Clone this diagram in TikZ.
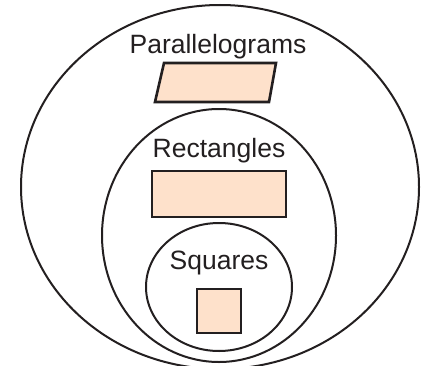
\documentclass[tikz,border=0pt]{standalone}
\usepackage{fontspec}
\setmainfont{Liberation Sans}
\usetikzlibrary{positioning}

\definecolor{inkline}{HTML}{231F20}
\definecolor{peach}{HTML}{FEE1CB}

\begin{document}
\begin{tikzpicture}[x=1pt, y=1pt,
  setline/.style={draw=inkline, line width=2pt},
  shapebox/.style={draw=inkline, line width=2.6pt, fill=peach, line join=miter},
  setlabel/.style={font=\fontsize{26.5}{30}\selectfont, text=inkline, anchor=base, inner sep=0pt}]
\useasboundingbox (0,0) rectangle (425,365);
\clip (0,0) rectangle (425,365);

% the three sets
\draw[setline] (220,178) ellipse [x radius=199, y radius=182];
\draw[setline] (219,129.5) ellipse [x radius=117, y radius=126.5];
\draw[setline] (219,78) ellipse [x radius=73, y radius=64];

% labels
\node[setlabel] (para) at (218,312) {Parallelograms};
\node[setlabel] (rect) at (219,208) {Rectangles};
\node[setlabel] (squa) at (219,96) {Squares};

% one shape of each kind
\draw[shapebox] (164,302) -- (276,302) -- (269,263) -- (155,263) -- cycle;
\draw[shapebox] (152,194) rectangle (286,148);
\draw[shapebox] (197,76) rectangle (241,32);
\end{tikzpicture}
\end{document}
